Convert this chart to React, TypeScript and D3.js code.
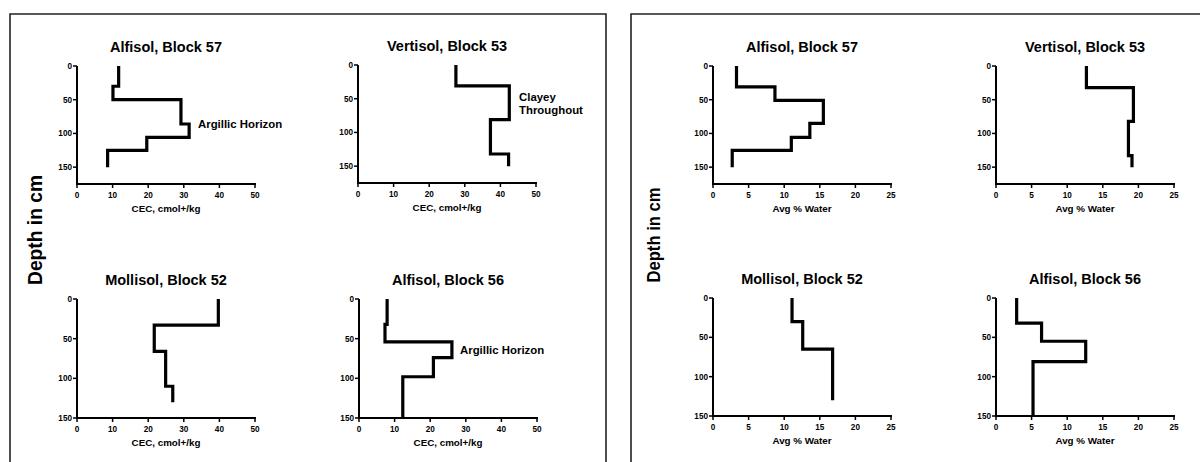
import React from 'react';
import * as d3 from 'd3';

// depth boundaries (cm) and the value held over each layer
const cecAlfisol57Depth = [0, 30, 50, 86, 106, 125, 150];
const cecAlfisol57Value = [11.7, 10.1, 29.2, 31.5, 19.6, 8.6];
const cecVertisol53Depth = [0, 31, 81, 132, 150];
const cecVertisol53Value = [27.5, 42.5, 37.2, 42.3];
const cecMollisol52Depth = [0, 33, 66, 110, 130];
const cecMollisol52Value = [39.7, 21.7, 24.9, 26.9];
const cecAlfisol56Depth = [0, 32, 54, 74, 98, 150];
const cecAlfisol56Value = [7.9, 7.3, 26.1, 20.9, 12.3];

const waterAlfisol57Depth = [0, 31, 51, 85, 106, 125, 150];
const waterAlfisol57Value = [3.3, 8.7, 15.5, 13.6, 11.0, 2.7];
const waterVertisol53Depth = [0, 32, 82, 133, 150];
const waterVertisol53Value = [12.7, 19.3, 18.6, 19.1];
const waterMollisol52Depth = [0, 30, 65, 130];
const waterMollisol52Value = [11.1, 12.6, 16.8];
const waterAlfisol56Depth = [0, 32, 55, 81, 150];
const waterAlfisol56Value = [2.9, 6.4, 12.6, 5.2];

const cecTicks = [0, 10, 20, 30, 40, 50];
const waterTicks = [0, 5, 10, 15, 20, 25];
const depthTicks = [0, 50, 100, 150];

const FONT = 'Liberation Sans, Arial, sans-serif';

type PanelProps = {
  title: string;
  xLabel: string;
  xTicks: number[];
  depths: number[];
  values: number[];
  left: number;
  top: number;
  bottom: number;
  yMax: number;
  note?: string[];
  noteX?: number;
  noteY?: number;
};

const Panel = ({ title, xLabel, xTicks, depths, values, left, top, bottom, yMax, note, noteX, noteY }: PanelProps) => {
  const width = 178;
  const xScale = d3.scaleLinear().domain([xTicks[0], xTicks[xTicks.length - 1]]).range([left, left + width]);
  const yScale = d3.scaleLinear().domain([0, yMax]).range([top, bottom]);

  // build the stepped profile: vertical within a layer, horizontal at boundaries
  const pts: [number, number][] = [];
  values.forEach((v, i) => {
    pts.push([v, depths[i]]);
    pts.push([v, depths[i + 1]]);
  });
  const line = d3.line<[number, number]>()
    .x(d => xScale(d[0]))
    .y(d => yScale(d[1]));

  return (
    <g fontFamily={FONT} fontWeight="bold" fill="#000">
      <text x={left + width / 2} y={top - 14} textAnchor="middle" fontSize={14.5}>{title}</text>
      <path d={line(pts) || ''} fill="none" stroke="#000" strokeWidth={3.2} strokeLinejoin="miter" />
      <line x1={left} x2={left} y1={top} y2={bottom} stroke="#000" strokeWidth={2} />
      <line x1={left - 1} x2={left + width + 1} y1={bottom} y2={bottom} stroke="#000" strokeWidth={2} />
      {depthTicks.map(t => (
        <g key={'y' + t}>
          <line x1={left - 4} x2={left} y1={yScale(t)} y2={yScale(t)} stroke="#000" strokeWidth={1.5} />
          <text x={left - 5} y={yScale(t) + 3} textAnchor="end" fontSize={8.2}>{t}</text>
        </g>
      ))}
      {xTicks.map(t => (
        <g key={'x' + t}>
          <line x1={xScale(t)} x2={xScale(t)} y1={bottom} y2={bottom + 4} stroke="#000" strokeWidth={1.5} />
          <text x={xScale(t)} y={bottom + 13.5} textAnchor="middle" fontSize={8.2}>{t}</text>
        </g>
      ))}
      <text x={left + width / 2} y={bottom + 28} textAnchor="middle" fontSize={9.8}>{xLabel}</text>
      {note && note.map((s, i) => (
        <text key={s} x={noteX} y={(noteY || 0) + i * 13} fontSize={11.4}>{s}</text>
      ))}
    </g>
  );
};

const App = () => {
  return (
    <svg width={1200} height={462} style={{ position: 'absolute', left: 0, top: 0, background: '#fff' }}>
      <rect x={0} y={0} width={1200} height={462} fill="#fff" />
      {/* frames */}
      <path d="M10,470 V14 H606 V470" fill="none" stroke="#222" strokeWidth={1.6} />
      <path d="M631,470 V14 H1210" fill="none" stroke="#222" strokeWidth={1.6} />

      <text transform="translate(42,230) rotate(-90)" textAnchor="middle" fontFamily={FONT} fontWeight="bold"
        fontSize={21} textLength={110} lengthAdjust="spacingAndGlyphs">Depth in cm</text>
      <text transform="translate(660,235) rotate(-90)" textAnchor="middle" fontFamily={FONT} fontWeight="bold"
        fontSize={19} textLength={95} lengthAdjust="spacingAndGlyphs">Depth in cm</text>

      <Panel title="Alfisol, Block 57" xLabel="CEC, cmol+/kg" xTicks={cecTicks}
        depths={cecAlfisol57Depth} values={cecAlfisol57Value}
        left={77} top={66} bottom={184} yMax={175}
        note={['Argillic Horizon']} noteX={198} noteY={128} />
      <Panel title="Vertisol, Block 53" xLabel="CEC, cmol+/kg" xTicks={cecTicks}
        depths={cecVertisol53Depth} values={cecVertisol53Value}
        left={358} top={65} bottom={183} yMax={175}
        note={['Clayey', 'Throughout']} noteX={519} noteY={101} />
      <Panel title="Mollisol, Block 52" xLabel="CEC, cmol+/kg" xTicks={cecTicks}
        depths={cecMollisol52Depth} values={cecMollisol52Value}
        left={77} top={299} bottom={418} yMax={150} />
      <Panel title="Alfisol, Block 56" xLabel="CEC, cmol+/kg" xTicks={cecTicks}
        depths={cecAlfisol56Depth} values={cecAlfisol56Value}
        left={359} top={299} bottom={418} yMax={150}
        note={['Argillic Horizon']} noteX={460} noteY={354} />

      <Panel title="Alfisol, Block 57" xLabel="Avg % Water" xTicks={waterTicks}
        depths={waterAlfisol57Depth} values={waterAlfisol57Value}
        left={713} top={66} bottom={184} yMax={175} />
      <Panel title="Vertisol, Block 53" xLabel="Avg % Water" xTicks={waterTicks}
        depths={waterVertisol53Depth} values={waterVertisol53Value}
        left={996} top={66} bottom={184} yMax={175} />
      <Panel title="Mollisol, Block 52" xLabel="Avg % Water" xTicks={waterTicks}
        depths={waterMollisol52Depth} values={waterMollisol52Value}
        left={713} top={298} bottom={416} yMax={150} />
      <Panel title="Alfisol, Block 56" xLabel="Avg % Water" xTicks={waterTicks}
        depths={waterAlfisol56Depth} values={waterAlfisol56Value}
        left={996} top={298} bottom={416} yMax={150} />
    </svg>
  );
};

export default App;
